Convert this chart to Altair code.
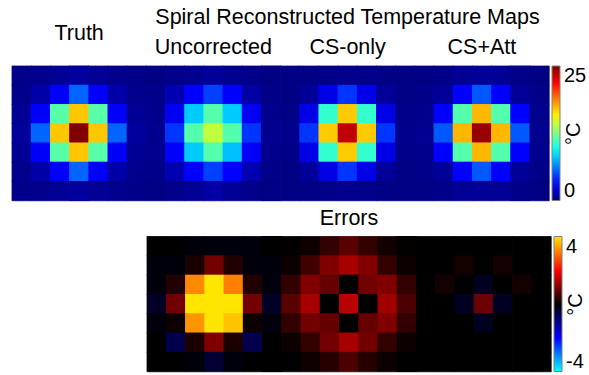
import altair as alt
import pandas as pd

FONT = "Liberation Sans"
FS = 21.5
LFS = 20

MAP_NAMES = ["Truth", "Uncorrected", "CS-only", "CS+Att"]
SUPER_TITLE = "Spiral Reconstructed Temperature Maps"
ERROR_TITLE = "Errors"
UNIT = "°C"
TEMP_TICKS = [0, 25]
ERR_TICKS = [-4, 4]

# 7x7 temperature maps (°C), rows top to bottom
TRUTH = [
    [0.2, 0.3, 0.5, 0.7, 0.5, 0.3, 0.2],
    [0.3, 1.0, 3.0, 5.6, 3.0, 1.0, 0.3],
    [0.5, 3.0, 11.5, 17.0, 11.5, 3.0, 0.5],
    [0.7, 5.6, 17.0, 25.0, 17.0, 5.6, 0.7],
    [0.5, 3.0, 11.5, 17.0, 11.5, 3.0, 0.5],
    [0.3, 1.0, 3.0, 5.6, 3.0, 1.0, 0.3],
    [0.2, 0.3, 0.5, 0.7, 0.5, 0.3, 0.2],
]
UNCORRECTED = [
    [0.1, 0.2, 0.4, 0.6, 0.4, 0.2, 0.1],
    [0.2, 1.2, 3.1, 4.7, 3.1, 0.9, 0.2],
    [0.3, 2.8, 8.1, 11.4, 8.1, 2.8, 0.3],
    [0.4, 4.4, 11.4, 14.1, 11.4, 4.4, 0.4],
    [0.3, 3.0, 8.1, 11.4, 7.8, 3.0, 0.3],
    [0.2, 1.2, 3.1, 4.7, 3.1, 1.2, 0.2],
    [0.1, 0.2, 0.5, 0.9, 0.5, 0.2, 0.1],
]
CS_ONLY = [
    [0.1, 0.1, 0.2, 0.3, 0.2, 0.1, 0.1],
    [0.1, 0.6, 2.5, 4.4, 2.5, 0.6, 0.1],
    [0.2, 2.5, 10.6, 16.9, 10.6, 2.5, 0.2],
    [0.3, 4.4, 16.9, 23.4, 16.9, 4.4, 0.3],
    [0.2, 2.5, 10.6, 16.9, 10.6, 2.5, 0.2],
    [0.1, 0.6, 2.5, 4.4, 2.5, 0.6, 0.1],
    [0.1, 0.1, 0.2, 0.3, 0.2, 0.1, 0.1],
]
CS_ATT = [
    [0.1, 0.2, 0.5, 0.6, 0.5, 0.2, 0.1],
    [0.2, 0.6, 3.1, 5.3, 3.1, 0.6, 0.2],
    [0.3, 3.1, 11.4, 17.4, 11.4, 3.1, 0.3],
    [0.4, 5.3, 17.4, 24.4, 17.4, 5.3, 0.4],
    [0.3, 3.1, 11.4, 17.4, 11.4, 3.1, 0.3],
    [0.2, 0.6, 3.1, 5.3, 3.1, 0.6, 0.2],
    [0.1, 0.2, 0.5, 0.6, 0.5, 0.2, 0.1],
]

# 7x7 error maps (°C)
ERR_UNCORRECTED = [
    [0.0, 0.0, -0.1, -0.1, -0.1, -0.1, 0.0],
    [-0.1, -0.1, 0.2, 0.9, 0.25, -0.1, -0.1],
    [-0.1, 0.25, 3.2, 4.0, 3.1, 0.25, -0.1],
    [-0.3, 0.9, 4.0, 4.0, 4.0, 0.9, -0.3],
    [-0.1, 0.1, 3.3, 4.0, 3.7, 0.1, -0.1],
    [0.0, -0.6, 0.2, 1.0, 0.2, -0.6, 0.0],
    [0.0, 0.0, -0.1, -0.4, -0.1, 0.0, 0.0],
]
ERR_CS_ONLY = [
    [0.04, 0.12, 0.4, 0.7, 0.4, 0.14, 0.02],
    [0.1, 0.5, 1.0, 1.3, 1.0, 0.4, 0.1],
    [0.4, 1.0, 0.8, 0.0, 0.9, 1.0, 0.4],
    [0.7, 1.3, 0.0, 1.45, 0.0, 1.25, 0.6],
    [0.4, 0.9, 0.8, 0.0, 0.8, 1.0, 0.4],
    [0.1, 0.4, 0.9, 1.3, 0.9, 0.4, 0.1],
    [0.0, 0.1, 0.3, 0.6, 0.3, 0.1, 0.0],
]
ERR_CS_ATT = [
    [0.0, 0.0, 0.0, 0.0, 0.0, 0.0, 0.0],
    [0.0, 0.0, 0.15, 0.0, 0.15, 0.0, 0.0],
    [0.0, 0.15, 0.0, -0.25, 0.0, 0.15, 0.0],
    [0.0, 0.0, -0.25, 0.85, -0.25, 0.0, 0.0],
    [0.0, 0.0, 0.0, -0.25, 0.0, 0.0, 0.0],
    [0.0, 0.0, 0.0, 0.0, 0.0, 0.0, 0.0],
    [0.0, 0.0, 0.0, 0.0, 0.0, 0.0, 0.0],
]

TEMP_MAPS = [TRUTH, UNCORRECTED, CS_ONLY, CS_ATT]
ERR_MAPS = [ERR_UNCORRECTED, ERR_CS_ONLY, ERR_CS_ATT]

JET_STOPS = [0, 0.125, 0.375, 0.625, 0.875, 1.0]
JET_COLORS = ["#000080", "#0000ff", "#00ffff", "#ffff00", "#ff0000", "#800000"]
ERR_STOPS = [-4, -2, 0, 2, 4]
ERR_COLORS = ["#00ffff", "#0000ff", "#000000", "#ff0000", "#ffe600"]

N = 7
TOP_W, TOP_H = 537, 134.5
ERR_W, ERR_H = 404, 135


def to_frame(maps):
    recs = []
    for m, grid in enumerate(maps):
        for r, rowvals in enumerate(grid):
            for c, v in enumerate(rowvals):
                recs.append({"gcol": m * N + c, "row": r, "value": v})
    return pd.DataFrame(recs)


top_df = to_frame(TEMP_MAPS)
err_df = to_frame(ERR_MAPS)

label_pos = [m * N + N // 2 for m in range(len(MAP_NAMES))]
expr = ""
for pos, name in zip(label_pos, MAP_NAMES):
    expr += f"datum.value == {pos} ? '{name}' : "
expr += "''"

band = alt.Scale(paddingInner=0, paddingOuter=0)
temp_scale = alt.Scale(domain=[s * 25 for s in JET_STOPS], range=JET_COLORS,
                       clamp=True, interpolate="rgb")
err_scale = alt.Scale(domain=ERR_STOPS, range=ERR_COLORS, clamp=True, interpolate="rgb")


def legend(ticks, x, h):
    return alt.Legend(
        type="gradient", direction="vertical", orient="none", legendX=x, legendY=0,
        padding=0, gradientLength=h, gradientThickness=8, gradientStrokeColor="#808080",
        gradientStrokeWidth=1, values=ticks, labelFontSize=LFS, labelFont=FONT,
        labelColor="black", labelOffset=4, labelExpr="'' + datum.value", title=None,
    )


def unit_axis():
    return alt.Axis(orient="right", title=UNIT, labels=False, ticks=False, domain=False,
                    titleAngle=270, titleBaseline="top", titleAlign="center",
                    titleAnchor="middle", titlePadding=14, titleFontSize=LFS,
                    titleFont=FONT, titleFontWeight="normal", titleColor="black")


cell = dict(width=alt.RelativeBandSize(1.04), height=alt.RelativeBandSize(1.04),
            strokeWidth=0)

top = alt.Chart(top_df).mark_rect(**cell).encode(
    x=alt.X("gcol:O", scale=band, title=None,
            axis=alt.Axis(orient="top", values=label_pos,
                          labelExpr=expr, ticks=False, domain=False, labelAngle=0,
                          labelFontSize=FS, labelFont=FONT, labelColor="black",
                          labelPadding={"condition": {"test": f"datum.value == {label_pos[0]}",
                                                      "value": 22}, "value": 8})),
    y=alt.Y("row:O", scale=band, axis=unit_axis()),
    color=alt.Color("value:Q", scale=temp_scale, legend=legend(TEMP_TICKS, TOP_W + 3, TOP_H)),
).properties(
    width=TOP_W, height=TOP_H,
    title=alt.TitleParams(SUPER_TITLE, fontSize=FS, font=FONT, fontWeight="normal",
                          anchor="middle", frame="group", dx=67, offset=-6, color="black"),
    view=alt.ViewBackground(stroke="#a0a0a0", strokeWidth=1),
)

errors = alt.Chart(err_df).mark_rect(**cell).encode(
    x=alt.X("gcol:O", scale=band, axis=None),
    y=alt.Y("row:O", scale=band, axis=unit_axis()),
    color=alt.Color("value:Q", scale=err_scale, legend=legend(ERR_TICKS, ERR_W + 3, ERR_H)),
).properties(
    width=ERR_W, height=ERR_H,
    title=alt.TitleParams(ERROR_TITLE, fontSize=FS, font=FONT, fontWeight="normal",
                          anchor="middle", frame="group", offset=7, color="black"),
    view=alt.ViewBackground(stroke="#a0a0a0", strokeWidth=1),
)

spacer = alt.Chart(pd.DataFrame({"s": [0]})).mark_point(opacity=0).encode(
    x=alt.X("s:Q", axis=None), y=alt.Y("s:Q", axis=None)
).properties(width=133.5, height=ERR_H, view=alt.ViewBackground(strokeWidth=0))

bottom = alt.hconcat(spacer, errors, spacing=0).resolve_scale(color="independent")

chart = alt.vconcat(top, bottom, spacing=4.5).resolve_scale(color="independent").properties(
    padding={"left": 11, "top": 6, "right": 0, "bottom": 0},
    background="white",
).configure_view(strokeWidth=0)

chart.save("out.html", embed_options={"renderer": "svg", "actions": False})
